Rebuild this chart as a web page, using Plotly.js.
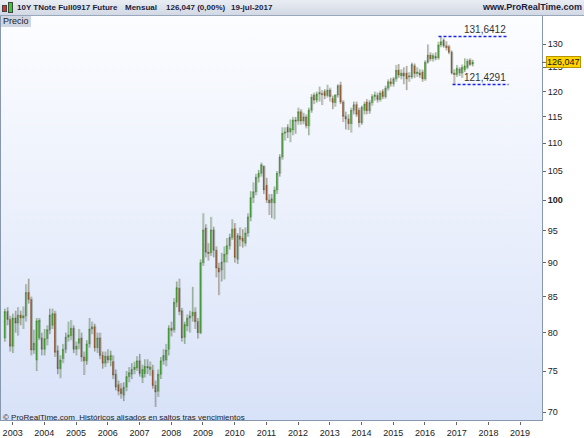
<!DOCTYPE html>
<html><head><meta charset="utf-8">
<script src="https://cdn.plot.ly/plotly-3.0.1.min.js"></script>
<style>
body{margin:0;padding:0;background:#fff;}
#wrap{position:relative;width:584px;height:438px;overflow:hidden;background:#fff;font-family:"Liberation Sans",Arial,sans-serif;}
#bg{position:absolute;left:0;top:16px;width:541px;height:404px;background:linear-gradient(#fcfdff,#d8e2f8);border-left:1px solid #8797ae;border-right:1px solid #8797ae;border-bottom:1px solid #8797ae;}
#chart{position:absolute;left:0;top:0;width:584px;height:438px;}
#header{position:absolute;left:0;top:0;width:584px;height:15px;background:linear-gradient(#e9edf3,#d2d9e4);border-bottom:1px solid #9aa8bc;font-weight:bold;font-size:8px;color:#1c1c3c;line-height:15px;white-space:nowrap;}
#header span{position:absolute;top:0;}
#precio{position:absolute;left:1px;top:16px;height:11px;line-height:11px;padding:0 2px;background:#cfd6e1;font-size:9px;color:#222;}
#copy{position:absolute;left:3px;top:413px;font-size:8px;color:#222;white-space:nowrap;}
.ic{position:absolute;width:3px;border:1px solid #444;}
</style></head>
<body>
<div id="wrap">
  <div id="bg"></div>
  <div id="chart"></div>
  <div id="header">
    <div class="ic" style="left:2px;top:5px;height:5px;background:#e03030;"></div>
    <div class="ic" style="left:8px;top:2px;height:9px;background:#30d030;"></div>
    <span style="left:17px">10Y TNote Full0917 Future</span>
    <span style="left:125px">Mensual</span>
    <span style="left:166px">126,047 (0,00%)</span>
    <span style="left:231px">19-jul-2017</span>
    <span style="right:2px;font-size:9px">www.ProRealTime.com</span>
  </div>
  <div id="precio">Precio</div>
  <div id="copy">© ProRealTime.com&nbsp; Históricos alisados en saltos tras vencimientos</div>
</div>
<script>
// Monthly candles, first = Oct 2002, last = Jul 2017
const startYear = 2002, startMonth = 10;
const openP = [79.3,82.9,81.8,78.2,82.0,81.3,82.4,82.0,82.3,85.6,84.6,77.7,76.4,79.3,79.3,77.8,79.2,80.4,81.0,82.6,
77.6,75.3,76.6,77.8,79.4,79.6,80.6,77.8,78.6,79.3,76.8,76.3,78.5,80.5,80.8,78.0,79.3,77.0,76.0,76.9,
76.4,76.2,74.6,73.3,72.8,72.0,73.0,74.3,74.6,75.2,75.4,76.3,74.2,74.7,75.6,75.2,75.1,73.2,72.5,74.6,
76.3,76.4,77.8,80.6,80.4,84.2,86.2,83.0,79.4,80.9,82.0,82.3,82.8,81.5,80.0,90.0,95.4,91.6,91.5,95.1,
91.9,89.2,88.9,90.1,91.3,92.6,93.9,95.3,90.5,94.1,93.8,93.0,94.6,97.2,100.4,101.4,103.9,104.6,105.8,102.5,
100.0,99.6,99.5,101.7,104.6,107.5,111.9,113.0,112.1,112.5,114.4,114.2,116.0,114.2,115.0,113.3,116.3,119.3,118.3,119.5,
119.6,120.0,119.2,120.3,118.6,117.8,119.3,121.3,117.9,115.1,114.6,113.7,116.3,117.4,116.3,113.9,116.3,117.9,116.2,117.8,
119.0,119.2,118.4,120.0,119.0,120.7,122.0,121.6,122.6,124.4,123.2,123.8,123.8,123.0,123.0,125.3,123.7,123.8,124.0,122.6,
126.1,127.6,126.8,127.3,127.0,129.8,130.8,129.6,129.4,128.2,123.8,123.5,123.8,123.8,124.5,125.0,126.5,125.7];
const highP = [83.3,83.5,82.3,82.6,83.0,83.5,83.0,83.6,86.8,87.6,85.0,80.4,82.0,82.0,80.0,80.5,81.0,83.3,83.3,83.0,
78.3,77.0,78.5,80.0,81.5,81.7,81.0,78.8,80.5,80.0,77.5,79.0,82.0,81.5,81.2,80.0,80.0,77.5,77.5,77.8,
77.6,77.0,75.2,73.8,73.5,73.6,75.0,75.5,76.0,76.2,76.9,77.2,75.8,76.5,76.5,76.2,75.8,73.8,75.2,76.8,
77.8,78.5,81.0,81.5,84.8,87.2,87.6,83.4,81.5,82.5,83.0,86.4,83.5,82.0,90.5,97.8,96.0,93.0,97.2,95.6,
92.5,90.0,91.5,92.5,93.8,94.5,96.8,96.2,94.6,95.5,95.2,95.5,97.8,101.5,103.0,104.5,105.2,106.5,106.0,103.8,
101.0,101.0,102.3,105.0,108.0,113.0,113.0,113.6,114.5,115.0,115.0,116.8,116.5,115.8,115.5,116.8,119.5,119.8,120.0,121.0,
120.3,120.5,121.4,120.8,119.2,119.5,121.5,122.0,118.3,116.0,115.5,116.8,118.0,118.0,116.8,117.2,118.0,118.5,118.3,119.5,
120.0,119.8,120.2,120.5,121.2,122.5,122.8,123.0,125.5,125.7,124.6,125.0,125.3,124.0,126.0,125.8,125.0,124.6,124.5,126.5,
129.9,128.2,128.0,128.2,130.5,131.6412,131.2,130.6,129.8,128.6,124.6,125.5,125.0,125.6,126.9,126.8,126.9,126.6];
const lowP = [78.8,81.0,77.5,77.3,80.0,79.6,81.0,80.5,81.5,84.0,77.0,77.2,75.0,79.0,77.0,77.0,78.3,79.8,80.5,76.8,
74.6,74.1,76.0,77.3,78.8,79.0,77.3,77.0,77.8,76.2,74.5,75.8,78.0,79.8,77.5,77.3,76.5,75.3,75.5,76.0,
75.6,74.0,72.6,72.0,71.6,71.3,72.5,73.6,74.0,74.6,75.0,74.3,73.5,74.2,74.6,74.4,72.8,70.6,71.8,74.0,
75.8,75.6,77.0,79.5,80.0,83.5,82.4,78.8,78.5,80.2,80.0,81.5,80.5,79.2,79.8,89.5,90.8,90.3,91.0,90.8,
87.8,85.2,87.2,87.5,90.0,92.0,93.5,90.0,89.8,92.5,92.3,92.5,94.0,96.5,99.5,100.8,103.0,104.0,101.0,99.5,
97.5,97.0,96.8,101.0,104.0,107.0,110.5,111.0,110.2,111.5,111.8,113.5,113.5,113.6,112.8,111.5,115.8,117.5,117.8,118.0,
117.3,118.5,118.8,118.0,116.5,117.0,118.8,117.5,114.0,112.6,112.5,112.0,115.5,115.0,113.0,113.5,115.5,115.5,115.6,117.2,
118.2,117.8,118.0,118.5,118.6,120.2,121.0,121.0,122.0,122.8,122.5,121.5,120.3,122.0,122.6,122.8,123.0,122.8,122.0,122.2,
125.8,126.3,126.2,126.5,126.6,129.3,129.2,128.6,127.8,123.5,121.4291,123.0,123.2,122.8,124.0,124.6,125.3,125.2];
const closeP = [82.9,81.8,78.2,82.0,81.3,82.4,82.0,82.3,85.6,84.6,77.7,78.6,81.6,81.7,77.8,79.2,80.4,82.4,82.6,77.4,
75.3,76.4,77.8,79.4,79.7,80.6,77.8,78.2,79.2,76.8,76.3,78.5,80.5,80.8,78.0,79.3,77.0,76.0,76.9,76.4,
77.0,74.5,73.0,72.5,72.2,73.0,74.3,74.8,75.2,75.5,76.3,74.7,75.2,75.6,75.4,75.5,73.2,72.4,74.6,76.3,
77.0,77.7,80.6,80.3,84.2,86.3,82.9,79.3,81.1,82.0,82.3,82.8,81.5,80.0,90.0,95.1,91.6,91.4,95.1,91.9,
89.2,88.6,90.1,91.3,92.6,93.9,95.2,90.8,94.2,93.6,93.3,94.6,97.2,100.4,101.4,103.9,104.6,106.1,101.7,100.0,
99.5,100.2,101.7,104.6,107.5,111.9,112.1,112.1,112.8,114.4,114.2,116.0,114.2,115.0,113.3,116.3,118.9,118.3,119.5,119.8,
119.4,119.2,120.3,119.0,117.8,119.3,121.2,117.9,115.1,114.6,113.7,116.3,117.4,115.5,113.9,116.9,117.5,116.2,117.8,119.0,
119.3,118.4,119.7,119.0,120.7,122.0,121.6,122.6,124.4,123.4,123.8,123.2,122.6,123.2,125.6,123.7,124.0,123.4,122.6,126.1,
127.6,126.8,127.5,127.0,129.8,130.5,129.6,129.2,128.2,123.8,123.5,124.8,124.6,125.0,125.3,126.3,125.6,126.047];

const yTickVals = [70,75,80,85,90,95,100,105,110,115,120,125,130];
const yTickText = ['70','75','80','85','90','95','<b>100</b>','105','110','115','120','125','130'];
const xYears = [2003,2004,2005,2006,2007,2008,2009,2010,2011,2012,2013,2014,2015,2016,2017,2018,2019];
const maxHigh = 131.6412, minLow = 121.4291, lastPrice = 126.047;
const maxLabel = '131,6412', minLabel = '121,4291', lastLabel = '126,047';

function pad(n){return (n<10?'0':'')+n;}
function monthDate(i, day){
  const m = startMonth - 1 + i;
  return (startYear + Math.floor(m/12)) + '-' + pad(m%12 + 1) + '-' + day;
}
const dates = openP.map(function(_, i){ return monthDate(i, '01'); });
// smoothed-history shadow, drawn slightly after each candle
const shadowDates = openP.map(function(_, i){ return monthDate(i, '13'); });

const shadow = {
  type:'candlestick', x:shadowDates, open:openP, high:highP, low:lowP, close:closeP,
  increasing:{line:{color:'rgba(110,125,110,0.35)',width:1},fillcolor:'rgba(150,160,150,0.3)'},
  decreasing:{line:{color:'rgba(110,125,110,0.35)',width:1},fillcolor:'rgba(150,160,150,0.3)'},
  whiskerwidth:0, hoverinfo:'none', showlegend:false
};
const trace = {
  type:'candlestick', x:dates, open:openP, high:highP, low:lowP, close:closeP,
  increasing:{line:{color:'#3a6a20',width:0.5},fillcolor:'#1fd01a'},
  decreasing:{line:{color:'#5e4a22',width:0.5},fillcolor:'#d23c10'},
  whiskerwidth:0, hoverinfo:'none', showlegend:false
};

const dashLine = {color:'#1a22e8', width:1.5, dash:'3px,2px'};
const layout = {
  width:584, height:438,
  margin:{l:1, r:42, t:16, b:17},
  boxgap:0,
  paper_bgcolor:'rgba(0,0,0,0)', plot_bgcolor:'rgba(0,0,0,0)',
  font:{family:'"Liberation Sans", Arial, sans-serif', size:9, color:'#222'},
  showlegend:false,
  xaxis:{type:'date', range:['2002-08-20','2019-09-10'], rangeslider:{visible:false},
    tickvals:xYears.map(function(y){return y+'-01-01';}), ticktext:xYears.map(String),
    ticks:'outside', ticklen:3, tickcolor:'#666', showgrid:false, zeroline:false, showline:false,
    tickfont:{size:9, color:'#222'}, fixedrange:true},
  yaxis:{type:'log', side:'right', range:[1.83857, 2.13441],
    tickvals:yTickVals, ticktext:yTickText,
    ticks:'outside', ticklen:3, tickcolor:'#666', showgrid:false, zeroline:false, showline:false,
    tickfont:{size:9, color:'#222'}, fixedrange:true},
  shapes:[
    {type:'line', xref:'x', yref:'y', x0:'2016-06-05', x1:'2018-08-20', y0:maxHigh, y1:maxHigh, line:dashLine},
    {type:'line', xref:'x', yref:'y', x0:'2016-11-14', x1:'2018-08-20', y0:minLow, y1:minLow, line:dashLine},
    {type:'line', xref:'paper', yref:'y', x0:1, x1:1.008, y0:lastPrice, y1:lastPrice, line:{color:'#666', width:1}}
  ],
  annotations:[
    {xref:'x', yref:'y', x:'2018-08-20', y:Math.log10(maxHigh), text:maxLabel, showarrow:false,
      xanchor:'right', yanchor:'bottom', yshift:0, font:{size:10, color:'#333'}},
    {xref:'x', yref:'y', x:'2018-08-20', y:Math.log10(minLow), text:minLabel, showarrow:false,
      xanchor:'right', yanchor:'bottom', yshift:0, font:{size:10, color:'#333'}},
    {xref:'paper', yref:'y', x:1, y:Math.log10(lastPrice), text:lastLabel, showarrow:false,
      xanchor:'left', yanchor:'middle', xshift:4, bgcolor:'#ffd400', bordercolor:'#b89400', borderwidth:1,
      borderpad:0, font:{size:9, color:'#111'}}
  ]
};
Plotly.newPlot('chart', [shadow, trace], layout, {staticPlot:true, displayModeBar:false});
</script>
</body></html>
